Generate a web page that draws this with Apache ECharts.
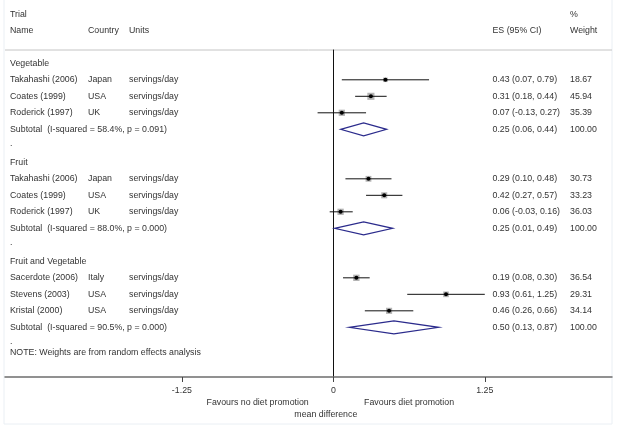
<!DOCTYPE html>
<html><head><meta charset="utf-8">
<script src="https://cdn.jsdelivr.net/npm/echarts@6/dist/echarts.min.js"></script>
<style>html,body{margin:0;padding:0;background:#fff}#c{width:621px;height:432px}</style>
</head><body><div id="c"></div>
<script>
const groups = ['Vegetable', 'Fruit', 'Fruit and Vegetable'];
const studyGroup = [0, 0, 0, 1, 1, 1, 2, 2, 2];
const studyNames = ['Takahashi (2006)', 'Coates (1999)', 'Roderick (1997)',
  'Takahashi (2006)', 'Coates (1999)', 'Roderick (1997)',
  'Sacerdote (2006)', 'Stevens (2003)', 'Kristal (2000)'];
const countries = ['Japan', 'USA', 'UK', 'Japan', 'USA', 'UK', 'Italy', 'USA', 'USA'];
const units = ['servings/day', 'servings/day', 'servings/day', 'servings/day', 'servings/day',
  'servings/day', 'servings/day', 'servings/day', 'servings/day'];
const es = [0.43, 0.31, 0.07, 0.29, 0.42, 0.06, 0.19, 0.93, 0.46];
const lo = [0.07, 0.18, -0.13, 0.10, 0.27, -0.03, 0.08, 0.61, 0.26];
const hi = [0.79, 0.44, 0.27, 0.48, 0.57, 0.16, 0.30, 1.25, 0.66];
const weights = [18.67, 45.94, 35.39, 30.73, 33.23, 36.03, 36.54, 29.31, 34.14];
const subES = [0.25, 0.25, 0.50];
const subLo = [0.06, 0.01, 0.13];
const subHi = [0.44, 0.49, 0.87];
const subI2 = ['58.4%', '88.0%', '90.5%'];
const subP = ['0.091', '0.000', '0.000'];
const xTicks = [-1.25, 0, 1.25];
const noteText = 'NOTE: Weights are from random effects analysis';

// build rows
const rows = [];
let r = 0;
groups.forEach((g, gi) => {
  rows.push({kind: 'head', row: r++, name: g});
  studyNames.forEach((n, i) => {
    if (studyGroup[i] !== gi) return;
    rows.push({kind: 'study', row: r++, name: n, country: countries[i], unit: units[i],
      es: es[i], lo: lo[i], hi: hi[i], w: weights[i]});
  });
  rows.push({kind: 'sub', row: r++, name: 'Subtotal  (I-squared = ' + subI2[gi] + ', p = ' + subP[gi] + ')',
    es: subES[gi], lo: subLo[gi], hi: subHi[gi], w: 100});
  rows.push({kind: 'dot', row: r++});
});
rows.push({kind: 'note', row: r - 0.5, name: noteText});

const FONT = '"Liberation Sans", Arial, sans-serif';
const FS = 8.8;
const TC = '#333';
const COL = {name: 10, country: 88, unit: 129, es: 492.5, w: 570};
const fmt = v => v.toFixed(2);

function txt(x, y, s) {
  return {type: 'text', style: {x: x, y: y, text: s, fill: TC, font: FS + 'px ' + FONT,
    textAlign: 'left', textVerticalAlign: 'middle'}};
}

function renderItem(params, api) {
  const d = rows[params.dataIndex];
  const y = api.coord([0, d.row])[1];
  const ch = [];
  if (d.kind === 'head' || d.kind === 'note') ch.push(txt(COL.name, y, d.name));
  if (d.kind === 'dot') ch.push(txt(COL.name, y - 2, '.'));
  if (d.kind === 'study') {
    ch.push(txt(COL.name, y, d.name), txt(COL.country, y, d.country), txt(COL.unit, y, d.unit));
    const p0 = api.coord([d.lo, d.row]), p1 = api.coord([d.hi, d.row]), pc = api.coord([d.es, d.row]);
    const s = 1.05 * Math.sqrt(d.w);
    ch.push({type: 'rect', shape: {x: pc[0] - s / 2, y: y - s / 2, width: s, height: s},
      style: {fill: '#b4b4b4'}});
    ch.push({type: 'line', shape: {x1: p0[0], y1: y, x2: p1[0], y2: y},
      style: {stroke: '#111', lineWidth: 1}});
    ch.push({type: 'circle', shape: {cx: pc[0], cy: y, r: 2}, style: {fill: '#000'}});
  }
  if (d.kind === 'sub') {
    ch.push(txt(COL.name, y, d.name));
    const p0 = api.coord([d.lo, d.row]), p1 = api.coord([d.hi, d.row]), pc = api.coord([d.es, d.row]);
    const h = 6.5;
    ch.push({type: 'polygon', shape: {points: [[p0[0], y], [pc[0], y - h], [p1[0], y], [pc[0], y + h]]},
      style: {fill: 'none', stroke: '#2b2b8c', lineWidth: 1.2}});
  }
  if (d.kind === 'study' || d.kind === 'sub') {
    ch.push(txt(COL.es, y, fmt(d.es) + ' (' + fmt(d.lo) + ', ' + fmt(d.hi) + ')'));
    ch.push(txt(COL.w, y, fmt(d.w)));
  }
  return {type: 'group', children: ch};
}

// bottom labels placed via axis scale
const bottomLabels = [
  {x: -0.625, y: 403, text: 'Favours no diet promotion'},
  {x: 0.625, y: 403, text: 'Favours diet promotion'},
  {x: -0.062, y: 415, text: 'mean difference'}
];
function renderBottom(params, api) {
  const d = bottomLabels[params.dataIndex];
  const px = api.coord([d.x, 0])[0];
  return {type: 'text', style: {x: px, y: d.y, text: d.text, fill: TC,
    font: FS + 'px ' + FONT, textAlign: 'center', textVerticalAlign: 'middle'}};
}

const chart = echarts.init(document.getElementById('c'), null, {renderer: 'canvas'});
chart.setOption({
  animation: false,
  backgroundColor: '#fff',
  grid: {left: 5, right: 9, top: 50, bottom: 55, containLabel: false},
  xAxis: {
    type: 'value', min: -2.71, max: 2.3,
    splitLine: {show: false},
    axisLine: {show: true, onZero: false, lineStyle: {color: '#6e6e6e', width: 1.5}},
    axisTick: {show: true, customValues: xTicks, length: 5, lineStyle: {color: '#444'}},
    axisLabel: {customValues: xTicks, color: TC, fontSize: FS, fontFamily: FONT, margin: 9,
      formatter: v => (v === 0 ? '0' : String(v))}
  },
  yAxis: {
    type: 'value', inverse: true, min: -0.806, max: 19.01,
    splitLine: {show: false},
    axisLine: {show: true, onZero: true, lineStyle: {color: '#111', width: 1}},
    axisTick: {show: false}, axisLabel: {show: false}
  },
  graphic: [
    {type: 'rect', shape: {x: 4, y: -2, width: 608, height: 426}, silent: true,
      style: {fill: 'none', stroke: '#eaeff4', lineWidth: 1}},
    {type: 'line', shape: {x1: 5, y1: 50, x2: 612, y2: 50}, style: {stroke: '#c4c4c4', lineWidth: 1}},
    {type: 'text', style: {x: COL.name, y: 14.7, text: 'Trial', fill: TC, font: FS + 'px ' + FONT, textVerticalAlign: 'middle'}},
    {type: 'text', style: {x: COL.name, y: 30.7, text: 'Name', fill: TC, font: FS + 'px ' + FONT, textVerticalAlign: 'middle'}},
    {type: 'text', style: {x: COL.country, y: 30.7, text: 'Country', fill: TC, font: FS + 'px ' + FONT, textVerticalAlign: 'middle'}},
    {type: 'text', style: {x: COL.unit, y: 30.7, text: 'Units', fill: TC, font: FS + 'px ' + FONT, textVerticalAlign: 'middle'}},
    {type: 'text', style: {x: COL.es, y: 30.7, text: 'ES (95% CI)', fill: TC, font: FS + 'px ' + FONT, textVerticalAlign: 'middle'}},
    {type: 'text', style: {x: COL.w, y: 14.7, text: '%', fill: TC, font: FS + 'px ' + FONT, textVerticalAlign: 'middle'}},
    {type: 'text', style: {x: COL.w, y: 30.7, text: 'Weight', fill: TC, font: FS + 'px ' + FONT, textVerticalAlign: 'middle'}}
  ],
  series: [
    {type: 'custom', renderItem: renderItem, clip: false,
      data: rows.map(d => [0, d.row])},
    {type: 'custom', renderItem: renderBottom, clip: false,
      data: bottomLabels.map(d => [d.x, 0])}
  ]
});
</script></body></html>
